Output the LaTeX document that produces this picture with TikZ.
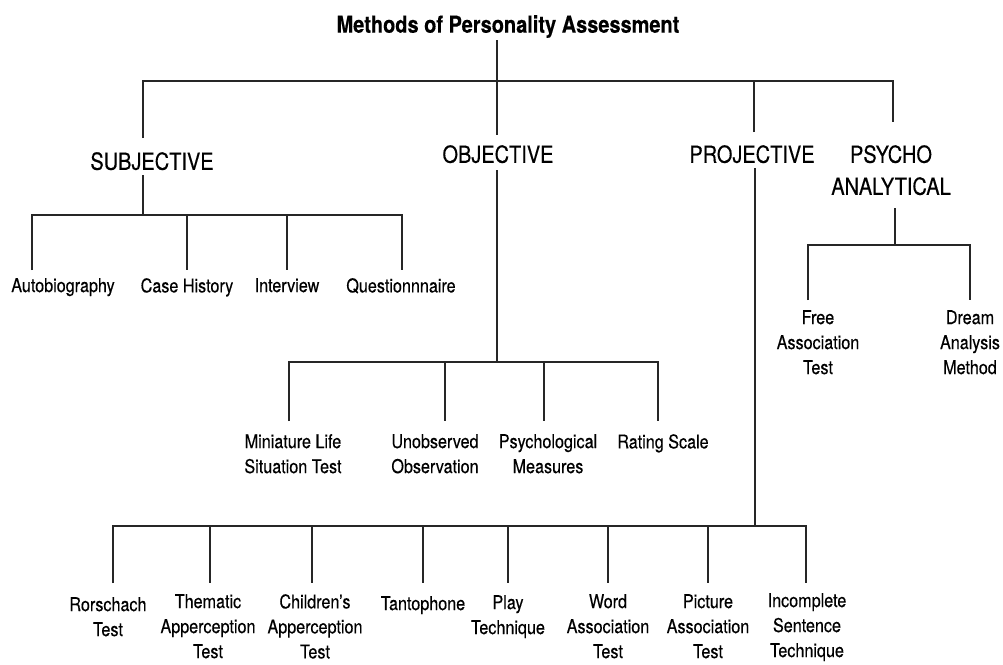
\documentclass[tikz,border=0pt]{standalone}
\usepackage{fontspec}
\setmainfont[FakeStretch=0.85,FakeBold=0.3]{TeX Gyre Heros}
\begin{document}
\begin{tikzpicture}[x=1pt,y=-1pt,
  conn/.style={line width=1.5pt,draw=black!85},
  ttl/.style={inner sep=0pt,anchor=north,font=\fontsize{23.5}{30}\selectfont\bfseries},
  cat/.style={inner sep=0pt,anchor=north,align=center,font=\fontsize{23.5}{32}\selectfont},
  lbl/.style={inner sep=0pt,anchor=north,align=center,font=\fontsize{19}{25}\selectfont}]
\useasboundingbox[fill=white] (0,0) rectangle (1003,664);

% title and categories
\node[ttl] (title) at (508,15) {Methods of Personality Assessment};
\node[cat] (subj) at (152,152) {SUBJECTIVE};
\node[cat] (obj) at (498,145) {OBJECTIVE};
\node[cat] (proj) at (752,145) {PROJECTIVE};
\node[cat] (psy) at (891,145) {PSYCHO\\ANALYTICAL};

% subjective items
\node[lbl] (auto) at (63,278) {Autobiography};
\node[lbl] (case) at (187,278) {Case History};
\node[lbl] (intv) at (287,278) {Interview};
\node[lbl] (ques) at (401,278) {Questionnnaire};

% objective items
\node[lbl] (mini) at (293,434) {Miniature Life\\Situation Test};
\node[lbl] (unob) at (435,434) {Unobserved\\Observation};
\node[lbl] (psym) at (548,434) {Psychological\\Measures};
\node[lbl] (rate) at (663,434) {Rating Scale};

% psycho-analytical items
\node[lbl] (free) at (818,310) {Free\\Association\\Test};
\node[lbl] (drea) at (970,310) {Dream\\Analysis\\Method};

% projective items
\node[lbl] (rors) at (108,597) {Rorschach\\Test};
\node[lbl] (them) at (208,594) {Thematic\\Apperception\\Test};
\node[lbl] (chil) at (315,594) {Children's\\Apperception\\Test};
\node[lbl] (tant) at (423,596) {Tantophone};
\node[lbl] (play) at (508,595) {Play\\Technique};
\node[lbl] (word) at (608,594) {Word\\Association\\Test};
\node[lbl] (pict) at (708,594) {Picture\\Association\\Test};
\node[lbl] (inco) at (807,593) {Incomplete\\Sentence\\Technique};

% coordinates of the tree
\coordinate (t0) at (497,40);
\coordinate (o0) at (497,135);
\coordinate (s0) at (143,138);
\coordinate (p0) at (754,132);
\coordinate (a0) at (893,122);
\coordinate (barL) at (143,81);
\coordinate (barR) at (893,81);

% top level
\draw[conn] (t0) -- (o0);
\draw[conn] (s0) -- (barL) -- (barR) -- (a0);
\draw[conn] (p0) -- (754,81);

% subjective branch
\draw[conn] (143,175) -- (143,215);
\draw[conn] (32,270) -- (32,215) -- (402,215) -- (402,270);
\draw[conn] (187,215) -- (187,270);
\draw[conn] (287,215) -- (287,270);

% objective branch
\draw[conn] (497,170) -- (497,362);
\draw[conn] (289,421) -- (289,362) -- (658,362) -- (658,421);
\draw[conn] (445,362) -- (445,421);
\draw[conn] (544,362) -- (544,421);

% psycho-analytical branch
\draw[conn] (895,208) -- (895,245);
\draw[conn] (808,300) -- (808,245) -- (970,245) -- (970,300);

% projective branch
\draw[conn] (755,168) -- (755,526);
\draw[conn] (113,583) -- (113,526) -- (806,526) -- (806,583);
\foreach \x in {210,312,423,508,608,708}
  \draw[conn] (\x,526) -- (\x,583);
\end{tikzpicture}
\end{document}
